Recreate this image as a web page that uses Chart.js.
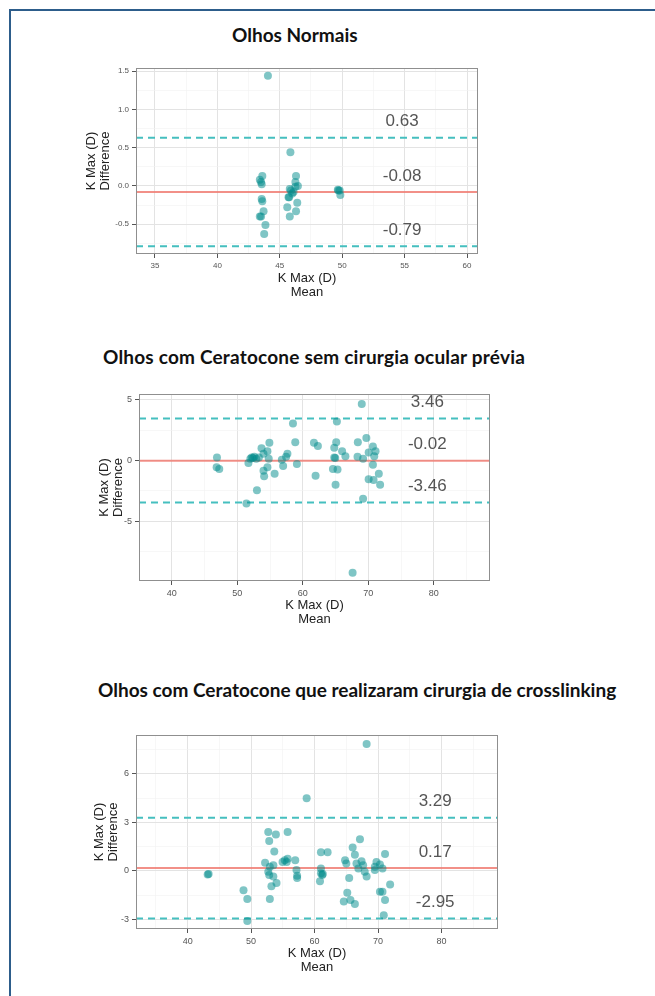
<!DOCTYPE html>
<html>
<head>
<meta charset="utf-8">
<script src="https://cdn.jsdelivr.net/npm/chart.js@4.4.1/dist/chart.umd.min.js"></script>
<style>
    body { margin: 0; background: #fff; width: 655px; height: 996px; position: relative; overflow: hidden; }
    .frame { position: absolute; left: 9px; top: 9px; right: -5px; bottom: -5px; border-top: 2px solid #2d5d8b; border-left: 2px solid #2d5d8b; }
    .title { position: absolute; font-family: "Lato", "Open Sans", sans-serif; font-weight: bold; font-size: 19px; line-height: 20px; color: #111; white-space: nowrap; }
    .panel { position: absolute; left: 60px; }
</style>
</head>
<body>
<div class="frame"></div>

<div class="title" style="left:232px; top:25px;">Olhos Normais</div>
<div class="panel" style="top:58px;"><canvas id="chartNormais" width="430" height="246"></canvas></div>

<div class="title" style="left:103px; top:347px; letter-spacing:0.2px;">Olhos com Ceratocone sem cirurgia ocular prévia</div>
<div class="panel" style="top:384px;"><canvas id="chartSemCirurgia" width="442" height="247"></canvas></div>

<div class="title" style="left:98px; top:680px;">Olhos com Ceratocone que realizaram cirurgia de crosslinking</div>
<div class="panel" style="top:725px;"><canvas id="chartCrosslinking" width="450" height="254"></canvas></div>

<script>
//panel 1 - normal eyes
const p1Mean = [44.05, 45.85, 43.4, 43.6, 43.55, 43.5, 43.55, 43.6, 43.4, 43.5, 43.7, 43.85, 43.75,
    45.8, 45.9, 45.7, 45.75, 45.6, 45.8, 46.3, 46.25, 46.45, 46.25, 46.1, 46.4, 46.3, 46.0,
    49.65, 49.8, 49.85, 49.7];
const p1Diff = [1.44, 0.44, 0.08, 0.13, 0.02, 0.05, -0.17, -0.2, -0.40, -0.40, -0.33, -0.51, -0.63,
    -0.04, -0.06, -0.15, -0.15, -0.28, -0.40, 0.13, 0.05, 0.0, -0.01, -0.08, -0.22, -0.33, -0.1,
    -0.05, -0.06, -0.12, -0.06];
const p1Limits = [0.63, -0.08, -0.79];
const p1LimitLabels = ['0.63', '-0.08', '-0.79'];
const p1XTicks = [35, 40, 45, 50, 55, 60];
const p1XMinor = [37.5, 42.5, 47.5, 52.5, 57.5];
const p1YTicks = [1.5, 1.0, 0.5, 0.0, -0.5];
const p1YTickLabels = ['1.5', '1.0', '0.5', '0.0', '-0.5'];
const p1YMinor = [1.25, 0.75, 0.25, -0.25, -0.75];

//panel 2 - keratoconus without previous surgery
const p2Mean = [46.9, 46.85, 47.25, 51.4, 53.0, 51.7, 52.0, 52.4, 52.9, 53.3, 52.6, 52.2,
    53.7, 54.0, 54.6, 54.9, 54.8, 54.0, 54.1, 54.6, 55.7, 56.8, 57.0, 57.45, 57.65,
    58.5, 58.85, 59.1, 61.7, 62.3, 61.95, 64.8, 65.1, 64.8, 64.95, 64.6, 65.3, 65.0, 65.2,
    66.0, 66.5, 68.4, 68.35, 69.0, 69.2, 69.7, 70.05, 70.7, 70.9, 70.7, 71.1,
    70.05, 70.8, 71.6, 71.8, 69.2, 67.6];
const p2Diff = [0.25, -0.55, -0.7, -3.55, -2.45, -0.2, 0.15, 0.2, 0.15, 0.25, 0.3, 0.25,
    1.0, 0.55, 0.75, 1.45, 0.15, -0.85, -1.3, -0.55, -1.1, 0.05, -0.45, 0.3, 0.55,
    3.05, 1.5, -0.3, 1.45, 1.2, -1.25, 1.05, 1.5, 0.25, 0.2, -0.7, -0.75, -2.0, 3.2,
    0.75, 0.35, 1.5, 0.3, 4.65, 0.15, 1.85, 0.65, 1.15, 0.35, -0.35, 0.75,
    -1.55, -1.6, -1.1, -2.0, -3.15, -9.25];
const p2Limits = [3.46, -0.02, -3.46];
const p2LimitLabels = ['3.46', '-0.02', '-3.46'];
const p2XTicks = [40, 50, 60, 70, 80];
const p2XMinor = [35, 45, 55, 65, 75, 85];
const p2YTicks = [5, 0, -5];
const p2YTickLabels = ['5', '0', '-5'];
const p2YMinor = [2.5, -2.5, -7.5];

//panel 3 - keratoconus after crosslinking
const p3Mean = [43.15, 43.3, 48.8, 49.4, 49.4, 52.2, 52.7, 52.85, 52.7, 52.95, 52.85, 52.95,
    53.2, 53.5, 53.5, 53.65, 53.9, 54.0, 54.95, 55.3, 55.6, 55.75, 55.75,
    56.95, 57.15, 57.25, 57.25, 58.75, 61.0, 62.05, 61.0, 61.0, 61.2, 61.3, 60.85,
    64.8, 65.0, 65.45, 65.15, 64.6, 65.65, 66.35, 66.0, 66.35, 67.15, 66.6, 66.9, 67.4, 67.65, 67.9, 68.2,
    69.5, 69.75, 69.5, 70.3, 70.7, 71.1, 70.3, 70.7, 71.1, 70.9, 71.9, 68.2];
const p3Diff = [-0.23, -0.2, -1.2, -1.75, -3.1, 0.5, 2.4, 1.85, -0.05, 0.25, -0.25, -1.75,
    -0.95, -0.35, 0.35, 1.2, 2.25, -0.75, 0.55, 0.65, 0.55, 2.4, 0.75,
    0.65, 0.05, -0.3, -0.45, 4.5, 1.15, 1.15, 0.15, -0.15, -0.25, -0.2, -0.65,
    0.65, 0.45, -0.45, -1.35, -1.9, -1.8, -2.05, 1.45, 1.0, 1.95, 0.45, 0.15, 0.6, 0.35, -0.05, -0.35,
    0.25, 0.55, 0.05, 0.4, 0.15, 1.05, -1.3, -1.3, -1.8, -2.75, -0.85, 7.85];
const p3Limits = [3.29, 0.17, -2.95];
const p3LimitLabels = ['3.29', '0.17', '-2.95'];
const p3XTicks = [40, 50, 60, 70, 80];
const p3XMinor = [35, 45, 55, 65, 75, 85];
const p3YTicks = [6, 3, 0, -3];
const p3YTickLabels = ['6', '3', '0', '-3'];
const p3YMinor = [7.5, 4.5, 1.5, -1.5];

const axisTitleY = ['K Max (D)', 'Difference'];
const axisTitleX = ['K Max (D)', 'Mean'];

const FONT = '"Liberation Sans", Arial, sans-serif';

//plugin to draw the panel border and the limit values above each line
const limitLabelsPlugin = {
    id: 'limitLabels',
    afterDatasetsDraw(chart, args, opts) {
        const { ctx, chartArea, scales } = chart;
        ctx.save();
        ctx.strokeStyle = '#8f8f8f';
        ctx.lineWidth = 1;
        ctx.strokeRect(chartArea.left + 0.5, chartArea.top + 0.5, chartArea.width - 1, chartArea.height - 1);
        ctx.font = '17px ' + FONT;
        ctx.fillStyle = '#555';
        ctx.textAlign = 'center';
        ctx.textBaseline = 'middle';
        opts.values.forEach((v, i) => {
            ctx.fillText(opts.labels[i], scales.x.getPixelForValue(opts.labelX), scales.y.getPixelForValue(v) - 16);
        });
        ctx.restore();
    }
};

//helper to build a scale with major + minor grid lines (ggplot look)
function buildScale(majors, minors, labels, min, max, opts) {
    const all = majors.concat(minors);
    const isMajor = v => majors.indexOf(v) >= 0;
    return {
        type: 'linear',
        min: min,
        max: max,
        afterBuildTicks: scale => { scale.ticks = all.slice().sort((a, b) => a - b).map(v => ({ value: v })); },
        afterFit: scale => {
            if (opts.width) scale.width = opts.width;
            if (opts.height) scale.height = opts.height;
        },
        grid: {
            color: c => (c.tick && isMajor(c.tick.value)) ? '#e3e3e3' : '#f2f2f2',
            lineWidth: c => (c.tick && isMajor(c.tick.value)) ? 1 : 0.6,
            tickColor: c => (c.tick && isMajor(c.tick.value)) ? '#555' : 'rgba(0,0,0,0)',
            tickLength: 4,
            drawTicks: true
        },
        border: { display: false },
        ticks: {
            autoSkip: false,
            maxRotation: 0,
            padding: 3,
            color: '#555',
            font: { family: FONT, size: opts.tickSize },
            callback: value => {
                const idx = majors.indexOf(value);
                return idx >= 0 ? labels[idx] : '';
            }
        },
        title: {
            display: true,
            text: opts.title,
            color: '#222',
            font: { family: FONT, size: 13, lineHeight: 1.1 },
            padding: opts.titlePadding
        }
    };
}

//function to create one Bland-Altman panel
function renderPanel(canvasId, means, diffs, limits, limitLabels, xr, yr, xTicks, xMinor, yTicks, yTickLabels, yMinor, cfg) {
    const points = means.map((m, i) => ({ x: m, y: diffs[i] }));
    const lineSets = limits.map((v, i) => ({
        data: [{ x: xr[0], y: v }, { x: xr[1], y: v }],
        showLine: true,
        pointRadius: 0,
        borderColor: i === 1 ? 'rgba(240,125,115,0.85)' : '#45bfbf',
        borderWidth: 2,
        borderDash: i === 1 ? [] : [7, 5],
        order: 2
    }));

    new Chart(document.getElementById(canvasId), {
        type: 'scatter',
        data: {
            datasets: lineSets.concat([{
                data: points,
                backgroundColor: 'rgba(0,139,139,0.5)',
                borderWidth: 0,
                pointRadius: 4,
                order: 1
            }])
        },
        options: {
            responsive: false,
            animation: false,
            layout: { padding: { top: 10, right: 12, left: 0, bottom: 0 } },
            scales: {
                x: buildScale(xTicks, xMinor, xTicks.map(String), xr[0], xr[1],
                    { height: 50, tickSize: cfg.tickSize, title: axisTitleX, titlePadding: { top: 2, bottom: 4 } }),
                y: buildScale(yTicks, yMinor, yTickLabels, yr[0], yr[1],
                    { width: cfg.yWidth, tickSize: cfg.tickSize, title: axisTitleY, titlePadding: { top: cfg.yTitlePad, bottom: 0 } })
            },
            plugins: {
                legend: { display: false },
                tooltip: { enabled: false },
                limitLabels: { values: limits, labels: limitLabels, labelX: cfg.labelX }
            }
        },
        plugins: [limitLabelsPlugin]
    });
}

document.addEventListener("DOMContentLoaded", () => {
    renderPanel('chartNormais', p1Mean, p1Diff, p1Limits, p1LimitLabels, [33.48, 60.88], [-0.89, 1.54],
        p1XTicks, p1XMinor, p1YTicks, p1YTickLabels, p1YMinor,
        { yWidth: 76, tickSize: 8, yTitlePad: 24, labelX: 54.8 });
    renderPanel('chartSemCirurgia', p2Mean, p2Diff, p2Limits, p2LimitLabels, [35.0, 88.57], [-9.92, 5.47],
        p2XTicks, p2XMinor, p2YTicks, p2YTickLabels, p2YMinor,
        { yWidth: 79, tickSize: 9, yTitlePad: 37, labelX: 79 });
    renderPanel('chartCrosslinking', p3Mean, p3Diff, p3Limits, p3LimitLabels, [31.86, 88.9], [-3.6, 8.41],
        p3XTicks, p3XMinor, p3YTicks, p3YTickLabels, p3YMinor,
        { yWidth: 76, tickSize: 9, yTitlePad: 32, labelX: 79 });
});
</script>
</body>
</html>
